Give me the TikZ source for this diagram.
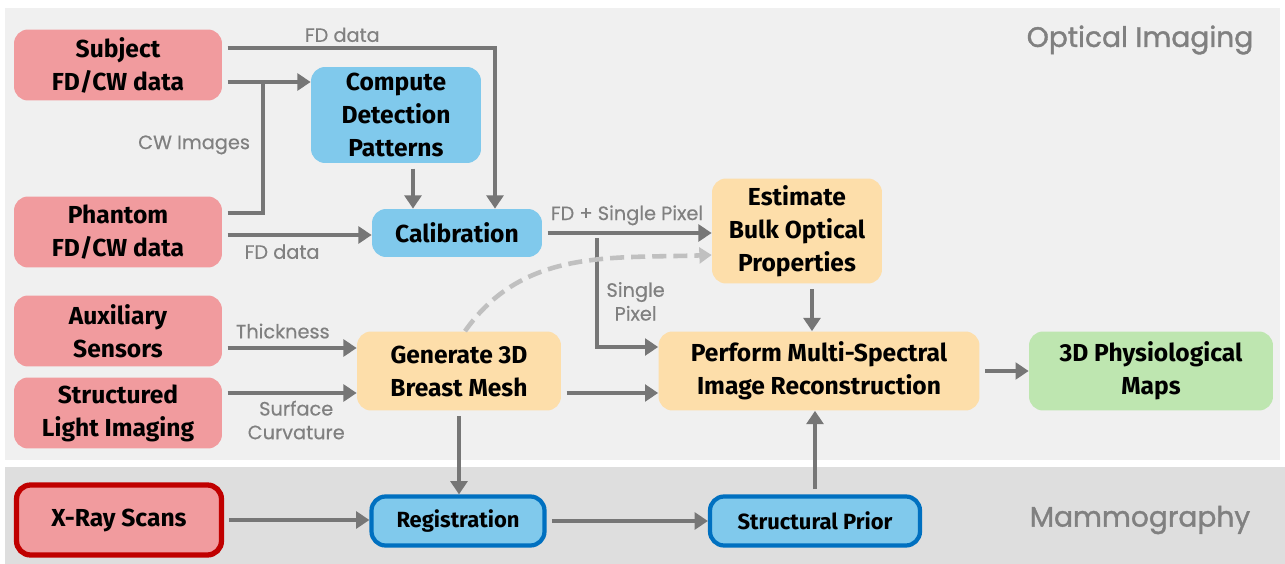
\documentclass[tikz,border=0pt]{standalone}
\usepackage{fontspec}
\usepackage{tikz}
\usepackage{xcolor}
\usetikzlibrary{arrows.meta,positioning,calc}
\newfontfamily\boxfont{Fira Sans}
\newfontfamily\lblfont[FakeBold=0.4]{Poppins}
\newfontfamily\sectfont[FakeBold=1.3]{Poppins}
\definecolor{inputRed}{RGB}{241,155,158}
\definecolor{xrayRed}{RGB}{192,0,0}
\definecolor{procBlue}{RGB}{128,201,236}
\definecolor{regBlue}{RGB}{0,112,192}
\definecolor{estOrange}{RGB}{253,222,170}
\definecolor{mapGreen}{RGB}{190,230,176}
\definecolor{flowGray}{RGB}{118,118,118}
\definecolor{dashGray}{RGB}{192,192,192}
\definecolor{lblGray}{RGB}{128,128,128}
\definecolor{opticBg}{RGB}{240,240,240}
\definecolor{mammoBg}{RGB}{222,222,222}

\begin{document}
\begin{tikzpicture}[
            x=0.02cm, y=-0.02cm,
            block/.style={rectangle, rounded corners=8pt, align=center, inner sep=2pt, font=\boxfont\bfseries\fontsize{14}{18.8}\selectfont},
            source/.style={block, fill=inputRed, minimum width=4.16cm, minimum height=1.42cm},
            proc/.style={block, fill=procBlue},
            est/.style={block, fill=estOrange},
            mammo/.style={block, fill=procBlue, draw=regBlue, line width=2.4pt, minimum height=0.98cm, font=\boxfont\bfseries\fontsize{12.5}{15}\selectfont},
            arrow/.style={draw=flowGray, line width=2.8pt, shorten <=3pt, -{Triangle[length=7.5pt,width=9.5pt]}},
            joinline/.style={draw=flowGray, line width=2.8pt, shorten <=3pt},
            dashcurve/.style={draw=dashGray, line width=2.6pt, dash pattern=on 8pt off 4pt, -{Triangle[length=7pt,width=9pt]}},
            lbl/.style={text=lblGray, font=\lblfont\fontsize{11}{13.5}\selectfont, align=center, inner sep=2pt},
            section/.style={text=lblGray, font=\sectfont\fontsize{16}{19}\selectfont}
        ]
            \useasboundingbox (0,0) rectangle (1285,564);
            % panels
            \fill[opticBg] (5,8) rectangle (1280,460);
            \fill[mammoBg] (5,467) rectangle (1285,564);
            \node[section] (optical) at (1140,40) {Optical Imaging};
            \node[section] (mammography) at (1140,520) {Mammography};

            % inputs
            \node[source] (subject) at (118,65) {Subject\\FD/CW data};
            \node[source] (phantom) at (118,232) {Phantom\\FD/CW data};
            \node[source] (aux) at (118,331) {Auxiliary\\Sensors};
            \node[source] (sli) at (118,413) {Structured\\Light Imaging};
            \node[source, draw=xrayRed, line width=3pt, minimum width=4.1cm, minimum height=1.4cm] (xray) at (119,520) {X-Ray Scans};

            % processing
            \node[proc, minimum width=3.4cm, minimum height=1.92cm] (detect) at (396,115) {Compute\\Detection\\Patterns};
            \node[proc, minimum width=3.4cm, minimum height=0.96cm] (calib) at (457,233) {Calibration};
            \node[est, minimum width=3.4cm, minimum height=2.1cm] (bulk) at (797,231) {Estimate\\Bulk Optical\\Properties};
            \node[est, minimum width=4.08cm, minimum height=1.58cm] (mesh) at (459,371) {Generate 3D\\Breast Mesh};
            \node[est, minimum width=6.42cm, minimum height=1.58cm] (recon) at (819,371) {Perform Multi-Spectral\\Image Reconstruction};
            \node[block, fill=mapGreen, minimum width=4.88cm, minimum height=1.58cm] (maps) at (1151,371) {3D Physiological\\Maps};
            \node[mammo, minimum width=3.46cm] (reg) at (458,521) {Registration};
            \node[mammo, minimum width=4.2cm] (prior) at (815,521) {Structural Prior};

            \coordinate (cwjoin) at (263,82);
            \coordinate (split) at (597,233);

            % connectors
            \draw[arrow] ([yshift=0.34cm]subject.east) -| ([xshift=0.76cm]calib.north) node[lbl, pos=0.22, above] {FD data};
            \draw[arrow] ([yshift=-0.34cm]subject.east) -- ([yshift=-0.34cm]subject.east -| detect.west);
            \draw[joinline] ([yshift=0.38cm]phantom.east) -| (cwjoin) node[lbl, pos=0.76, left=4pt] {CW Images};
            \draw[arrow] ([yshift=-0.06cm]phantom.east) -- ([yshift=-0.06cm]phantom.east -| calib.west) node[lbl, pos=0.4, below=2pt] {FD data};
            \draw[arrow] ([xshift=0.34cm]detect.south) -- ([xshift=0.34cm]detect.south |- calib.north);
            \draw[arrow] (calib.east) -- (calib.east -| bulk.west) node[lbl, pos=0.5, above=1pt] {FD + Single Pixel};
            \draw[arrow] (split) |- ([yshift=0.48cm]recon.west) node[lbl, pos=0.3, right=2pt] {Single\\Pixel};
            \draw[dashcurve] ([xshift=0.12cm]mesh.north) to[out=55, in=182] ([yshift=-0.48cm]bulk.west);
            \draw[arrow] ([xshift=0.3cm]bulk.south) -- ([xshift=0.3cm]bulk.south |- recon.north);
            \draw[arrow] ([yshift=-0.34cm]aux.east) -- ([yshift=-0.34cm]aux.east -| mesh.west) node[lbl, pos=0.45, above=2pt] {Thickness};
            \draw[arrow] ([yshift=0.4cm]sli.east) -- ([yshift=0.4cm]sli.east -| mesh.west) node[lbl, pos=0.55, below=1pt] {Surface\\Curvature};
            \draw[arrow] ([yshift=-0.44cm]mesh.east) -- ([yshift=-0.44cm]mesh.east -| recon.west);
            \draw[arrow] (recon.east) -- (maps.west);
            \draw[arrow] (mesh.south) -- (mesh.south |- reg.north);
            \draw[arrow] (xray.east) -- (xray.east -| reg.west);
            \draw[arrow] (reg.east) -- (prior.west);
            \draw[arrow] (prior.north) -- (prior.north |- recon.south);
        \end{tikzpicture}
\end{document}
